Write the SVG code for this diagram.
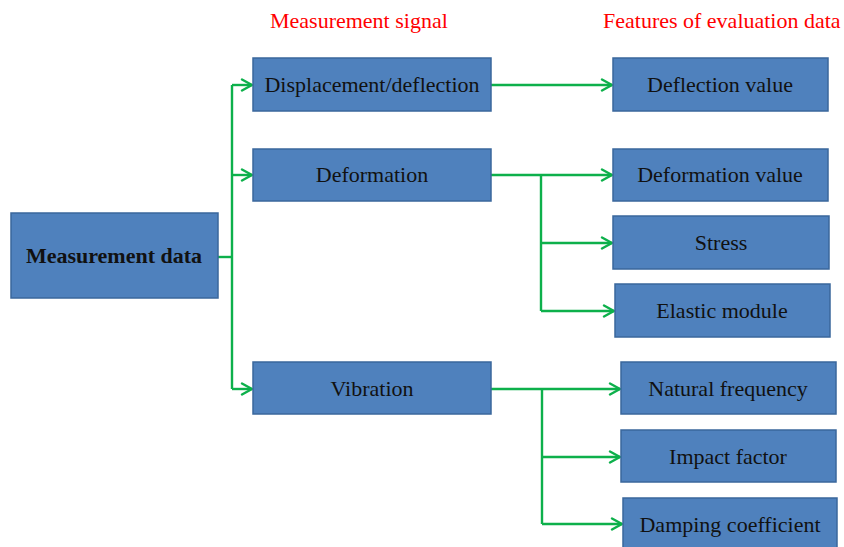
<svg xmlns="http://www.w3.org/2000/svg" width="844" height="547" viewBox="0 0 844 547">
  <style>
    .box { fill: #4F81BD; stroke: #3A679C; stroke-width: 1.5; }
    .lbl { font-family: "Liberation Serif", "Times New Roman", serif; font-size: 22px; fill: #111; text-anchor: middle; }
    .bold { font-weight: bold; }
    .head { font-family: "Liberation Serif", "Times New Roman", serif; font-size: 22px; fill: #FF0000; }
    .wire { fill: none; stroke: #0DB04B; stroke-width: 2.4; stroke-linejoin: round; }
  </style>
  <defs>
    <marker id="arrow" viewBox="0 0 14 14" markerWidth="14" markerHeight="14" refX="12" refY="7" orient="auto" markerUnits="userSpaceOnUse">
      <path d="M2,1.5 L12,7 L2,12.5" fill="none" stroke="#0DB04B" stroke-width="2.4" stroke-linejoin="round" stroke-linecap="round"/>
    </marker>
  </defs>

  <rect width="844" height="547" fill="#FFFFFF"/>

  <!-- column headings -->
  <text class="head" x="270" y="28">Measurement signal</text>
  <text class="head" x="603" y="28">Features of evaluation data</text>

  <!-- connectors -->
  <g id="connectors" class="wire">
    <path d="M211,257 H232"/>
    <path d="M232,85 V389"/>
    <path d="M232,85 H252" marker-end="url(#arrow)"/>
    <path d="M232,175 H252" marker-end="url(#arrow)"/>
    <path d="M232,389 H252" marker-end="url(#arrow)"/>

    <path d="M491,85 H612" marker-end="url(#arrow)"/>

    <path d="M491,175 H612" marker-end="url(#arrow)"/>
    <path d="M541,175 V311"/>
    <path d="M541,243 H612" marker-end="url(#arrow)"/>
    <path d="M541,311 H614" marker-end="url(#arrow)"/>

    <path d="M491,389 H620" marker-end="url(#arrow)"/>
    <path d="M542,389 V524"/>
    <path d="M542,457 H620" marker-end="url(#arrow)"/>
    <path d="M542,524 H622" marker-end="url(#arrow)"/>
  </g>

  <!-- root -->
  <g id="measurement-data">
    <rect class="box" x="11" y="213" width="207" height="85"/>
    <text class="lbl bold" x="114" y="263">Measurement data</text>
  </g>

  <!-- measurement signals -->
  <g id="displacement">
    <rect class="box" x="253" y="58" width="238" height="53"/>
    <text class="lbl" x="372" y="92">Displacement/deflection</text>
  </g>
  <g id="deformation">
    <rect class="box" x="253" y="149" width="238" height="52"/>
    <text class="lbl" x="372" y="182">Deformation</text>
  </g>
  <g id="vibration">
    <rect class="box" x="253" y="362" width="238" height="52"/>
    <text class="lbl" x="372" y="396">Vibration</text>
  </g>

  <!-- evaluation features -->
  <g id="deflection-value">
    <rect class="box" x="613" y="58" width="215" height="53"/>
    <text class="lbl" x="720" y="92">Deflection value</text>
  </g>
  <g id="deformation-value">
    <rect class="box" x="613" y="149" width="215" height="52"/>
    <text class="lbl" x="720" y="182">Deformation value</text>
  </g>
  <g id="stress">
    <rect class="box" x="613" y="216" width="216" height="53"/>
    <text class="lbl" x="721" y="250">Stress</text>
  </g>
  <g id="elastic-module">
    <rect class="box" x="615" y="284" width="215" height="53"/>
    <text class="lbl" x="722" y="318">Elastic module</text>
  </g>
  <g id="natural-frequency">
    <rect class="box" x="621" y="362" width="215" height="52"/>
    <text class="lbl" x="728" y="396">Natural frequency</text>
  </g>
  <g id="impact-factor">
    <rect class="box" x="621" y="430" width="215" height="52"/>
    <text class="lbl" x="728" y="464">Impact factor</text>
  </g>
  <g id="damping-coefficient">
    <rect class="box" x="623" y="498" width="214" height="53"/>
    <text class="lbl" x="730" y="532">Damping coefficient</text>
  </g>
</svg>
